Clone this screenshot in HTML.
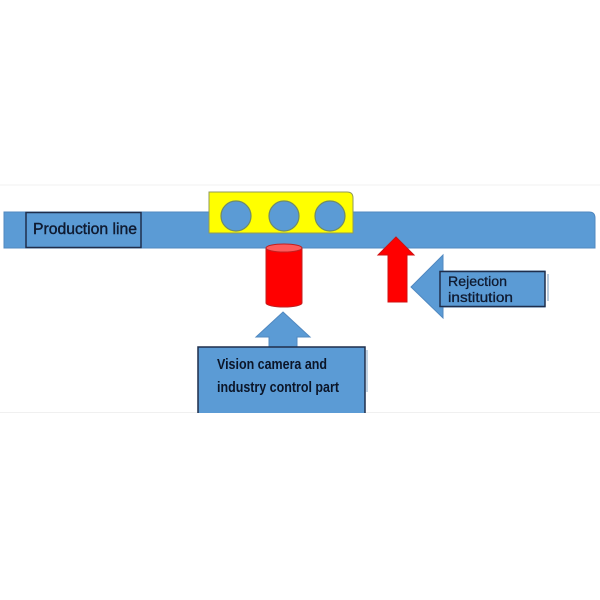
<!DOCTYPE html>
<html><head><meta charset="utf-8"><style>
html,body{margin:0;padding:0;background:#fff;width:600px;height:600px;overflow:hidden}
svg{display:block}
</style></head><body>
<svg width="600" height="600" viewBox="0 0 600 600" xmlns="http://www.w3.org/2000/svg">
<rect x="0" y="0" width="600" height="600" fill="#fff"/>
<line x1="0" y1="185" x2="600" y2="185" stroke="#f0f0f0" stroke-width="1"/>
<line x1="0" y1="412.5" x2="600" y2="412.5" stroke="#f0f0f0" stroke-width="1"/>
<!-- conveyor -->
<path d="M4 212 H589 Q595 212 595 218 V248 H4 Z" fill="#5b9bd5" stroke="#5088c0" stroke-width="1"/>
<!-- production line box -->
<rect x="26" y="212.5" width="115" height="35" fill="#5b9bd5" stroke="#1f2e4c" stroke-width="1.5"/>
<text x="33" y="234" font-family="Liberation Sans, sans-serif" font-size="15.5" fill="#0f1a30" stroke="#0f1a30" stroke-width="0.4" textLength="104" lengthAdjust="spacingAndGlyphs">Production line</text>
<!-- yellow box -->
<path d="M209 192 H347 Q353 192 353 198 V233 H209 Z" fill="#ffff00" stroke="#8f9a5c" stroke-width="1"/>
<circle cx="236" cy="216" r="15" fill="#5b9bd5" stroke="#6f8a6a" stroke-width="1.2"/>
<circle cx="284" cy="216" r="15" fill="#5b9bd5" stroke="#6f8a6a" stroke-width="1.2"/>
<circle cx="330" cy="216" r="15" fill="#5b9bd5" stroke="#6f8a6a" stroke-width="1.2"/>
<!-- cylinder -->
<path d="M266 248 V303 A18 4 0 0 0 302 303 V248" fill="#ff0000" stroke="#c02020" stroke-width="1"/>
<ellipse cx="284" cy="248" rx="18" ry="4" fill="#ff5a5a" stroke="#c02020" stroke-width="1"/>
<!-- blue up arrow -->
<path d="M283 312 L310 337 H297 V350 H269 V337 H256 Z" fill="#5b9bd5" stroke="#5088c0" stroke-width="1"/>
<!-- vision box -->
<rect x="198" y="347" width="167" height="70" fill="#5b9bd5" stroke="#1f2e4c" stroke-width="1.5"/>
<line x1="367" y1="350" x2="367" y2="392" stroke="#8aa8c8" stroke-width="1"/>
<text x="217" y="369" font-family="Liberation Sans, sans-serif" font-weight="bold" font-size="14.5" fill="#0b1528" textLength="110" lengthAdjust="spacingAndGlyphs">Vision camera and</text>
<text x="217" y="392" font-family="Liberation Sans, sans-serif" font-weight="bold" font-size="14.5" fill="#0b1528" textLength="122" lengthAdjust="spacingAndGlyphs">industry control part</text>
<rect x="0" y="413" width="600" height="10" fill="#fff"/>
<!-- red arrow -->
<path d="M396 237 L414 255 H407 V302 H388 V255 H378 Z" fill="#ff0000" stroke="#d01010" stroke-width="1"/>
<!-- rejection arrow -->
<path d="M411 287 L443 255 V271 H545 V307 H443 V318 Z" fill="#5b9bd5" stroke="#5088c0" stroke-width="1"/>
<rect x="440" y="271.5" width="105" height="35" fill="#5b9bd5" stroke="#1f2e4c" stroke-width="1.5"/>
<line x1="548" y1="274" x2="548" y2="301" stroke="#8aa8c8" stroke-width="1.2"/>
<text x="448" y="286" font-family="Liberation Sans, sans-serif" font-size="13.5" fill="#0f1a30" stroke="#0f1a30" stroke-width="0.3" textLength="59" lengthAdjust="spacingAndGlyphs">Rejection</text>
<text x="448" y="302" font-family="Liberation Sans, sans-serif" font-size="13.5" fill="#0f1a30" stroke="#0f1a30" stroke-width="0.3" textLength="65" lengthAdjust="spacingAndGlyphs">institution</text>
</svg>
</body></html>
